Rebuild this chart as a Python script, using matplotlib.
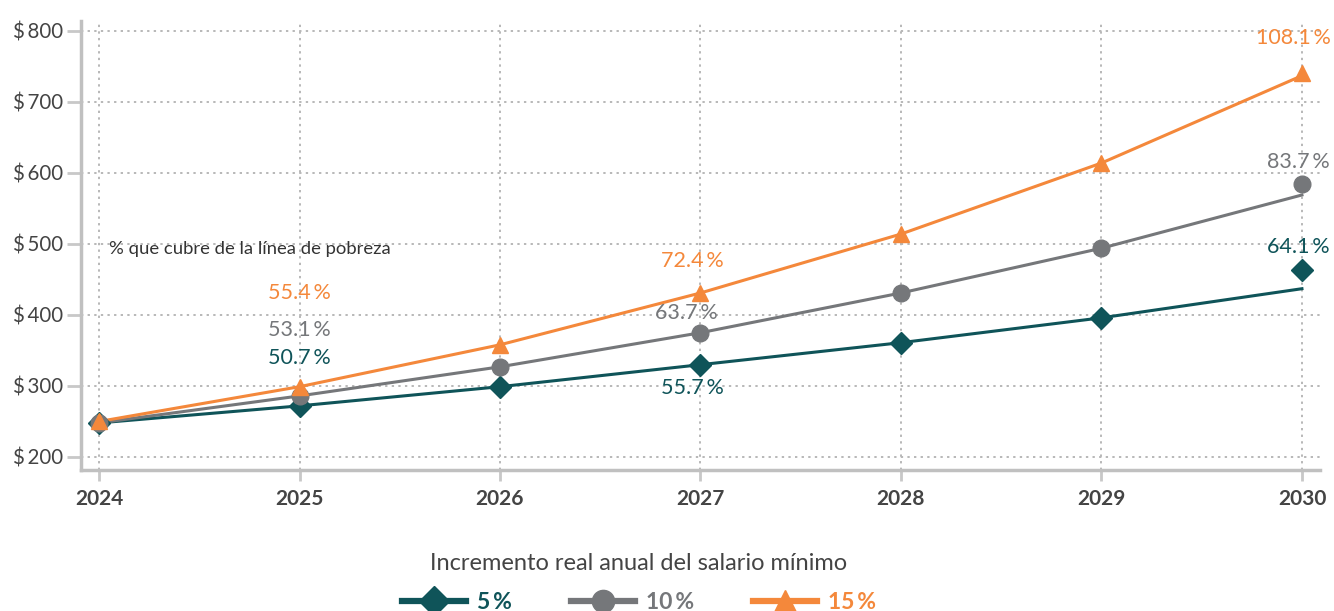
import numpy as np
import matplotlib.pyplot as plt
from matplotlib.lines import Line2D

plt.rcParams['font.family'] = ['Lato', 'DejaVu Sans']

years = [2024, 2025, 2026, 2027, 2028, 2029, 2030]
series = ['5\u2009%', '10\u2009%', '15\u2009%']
colors = ['#0f5459', '#75777a', '#f4883b']
markers = ['D', 'o', '^']

# marker values (pesos)
pts_5 = [248, 272, 299, 330, 361, 396, 463]
pts_10 = [248, 286, 327, 375, 431, 494, 585]
pts_15 = [250, 299, 358, 431, 514, 614, 741]
# line values (the drawn line ends below the last marker)
line_5 = [248, 272, 299, 330, 361, 396, 437]
line_10 = [248, 286, 327, 375, 431, 494, 569]
line_15 = [250, 299, 358, 431, 514, 614, 737]

# coverage of the poverty line, shown for 2025, 2027 and 2030
lab_5 = ['50.7\u2009%', '55.7\u2009%', '64.1\u2009%']
lab_10 = ['53.1\u2009%', '63.7\u2009%', '83.7\u2009%']
lab_15 = ['55.4\u2009%', '72.4\u2009%', '108.1\u2009%']

yticks = [200, 300, 400, 500, 600, 700, 800]

fig = plt.figure(figsize=(13.34, 6.11), dpi=100)
ax = fig.add_axes([0.0607, 0.2308, 0.9288, 0.7348])

pts = [pts_5, pts_10, pts_15]
lines = [line_5, line_10, line_15]
msize = [11, 12, 12]
for i in range(3):
    ax.plot(years, lines[i], color=colors[i], lw=2.2, zorder=3)
    ax.plot(years, pts[i], ls='none', marker=markers[i], color=colors[i],
            ms=msize[i], zorder=4)

ax.set_xlim(2023.91, 2030.09)
ax.set_ylim(181.7, 814)
ax.set_xticks(years)
ax.set_xticklabels([str(y) for y in years], fontsize=15, fontweight='bold', color='#444444')
ax.set_yticks(yticks)
ax.set_yticklabels(['$\u2009%d' % v for v in yticks], fontsize=14.8, color='#444444')
ax.tick_params(axis='y', length=10, width=2, color='#c8c8c8', pad=3)
ax.tick_params(axis='x', length=8, width=2, color='#c8c8c8', pad=6)
ax.grid(True, ls=(0, (1.2, 2.2)), color='#b8b8b8', lw=1.4)
for s in ['top', 'right']:
    ax.spines[s].set_visible(False)
for s in ['left', 'bottom']:
    ax.spines[s].set_color('#c0c0c0')
    ax.spines[s].set_linewidth(2.5)

ax.text(2024.05, 493, '% que cubre de la línea de pobreza', fontsize=13.3, color='#333333',
        va='center', ha='left')

# label positions (x, y) per series
lab_pos = [
    [(2025, 339), (2026.96, 297), (2029.98, 496)],
    [(2025, 379), (2026.93, 403), (2029.98, 615)],
    [(2025, 431), (2026.96, 476), (2029.96, 790)],
]
labs = [lab_5, lab_10, lab_15]
for i in range(3):
    for j, (x, y) in enumerate(lab_pos[i]):
        ax.text(x, y, labs[i][j], color=colors[i], fontsize=15.5,
                ha='center', va='center')

handles = [Line2D([], [], color=colors[i], marker=markers[i], ms=msize[i] + 4, lw=4.5)
           for i in range(3)]
leg = fig.legend(handles, series, loc='upper center', bbox_to_anchor=(0.479, 0.128),
                 ncol=3, frameon=False, fontsize=16.5, title='Incremento real anual del salario mínimo',
                 title_fontsize=17, handlelength=2.8, columnspacing=2.6, handletextpad=0.45,
                 labelcolor=colors)
leg.get_title().set_color('#444444')
for t in leg.get_texts():
    t.set_fontweight('bold')
leg._legend_box.sep = 13

fig.savefig('out.png', dpi=100)
